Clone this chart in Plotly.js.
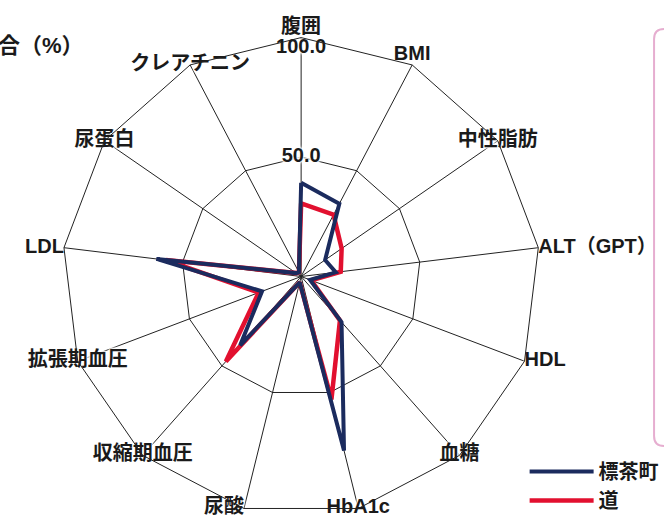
<!DOCTYPE html>
<html>
<head>
<meta charset="utf-8">
<script src="https://cdn.plot.ly/plotly-3.0.1.min.js"></script>
<style>html,body{margin:0;padding:0;background:#fff;}#chart{width:664px;height:527px;}</style>
</head>
<body>
<div id="chart"></div>
<script>
// categories (clockwise from top)
var categories = ['腹囲','BMI','中性脂肪','ALT（GPT）','HDL','血糖','HbA1c','尿酸','収縮期血圧','拡張期血圧','LDL','尿蛋白','クレアチニン'];
// 標茶町 (%)
var shibechaValues = [39.2, 34.4, 12.2, 14.6, 4.0, 25.5, 75.0, 2.5, 38.5, 17.5, 61.0, 2.5, 2.0];
// 道 (%)
var hokkaidoValues = [30.6, 29.2, 20.6, 16.7, 4.5, 24.5, 53.0, 2.5, 47.5, 19.0, 57.0, 2.5, 2.0];
// radial tick labels
var radialTickValues = [50, 100];
var radialTickLabels = ['50.0', '100.0'];
var seriesNames = ['標茶町', '道'];
var axisTitle = '割合（%）';

var labelPositions = ['top center','top center','middle center','middle right','middle right','middle center','middle center','middle left','middle center','middle center','middle left','middle center','middle center'];

function closed(arr){ return arr.concat([arr[0]]); }

var fontFam = '"Liberation Sans", "Noto Sans CJK JP", sans-serif';
var glow = '0 0 2px #fff, 0 0 2px #fff, 0 0 3px #fff, 0 0 3px #fff, 0 0 4px #fff';

var traces = [
  {
    type: 'scatterpolar', mode: 'lines', name: seriesNames[1],
    r: closed(hokkaidoValues), theta: closed(categories),
    line: {color: '#e2102f', width: 4.5},
    hoverinfo: 'skip'
  },
  {
    type: 'scatterpolar', mode: 'lines', name: seriesNames[0],
    r: closed(shibechaValues), theta: closed(categories),
    line: {color: '#1b2b5e', width: 4},
    hoverinfo: 'skip'
  },
  {
    type: 'scatterpolar', mode: 'text', showlegend: false,
    r: categories.map(function(){ return radialTickValues[1]; }),
    theta: categories, text: categories,
    textposition: labelPositions,
    textfont: {family: fontFam, size: 20, color: '#1a1a1a', weight: 'bold', shadow: glow},
    cliponaxis: false, hoverinfo: 'skip'
  },
  {
    type: 'scatterpolar', mode: 'text', showlegend: false,
    r: radialTickValues, theta: radialTickValues.map(function(){ return categories[0]; }),
    text: radialTickLabels,
    textposition: ['middle center','bottom center'],
    textfont: {family: fontFam, size: 20, color: '#1a1a1a', weight: 'bold', shadow: glow},
    cliponaxis: false, hoverinfo: 'skip'
  }
];

var layout = {
  width: 664, height: 527,
  margin: {l: 0, r: 0, t: 0, b: 0},
  paper_bgcolor: '#fff',
  showlegend: true,
  legend: {
    x: 527/664, xanchor: 'left', y: 1 - 452/527, yanchor: 'top',
    traceorder: 'reversed', bgcolor: 'rgba(0,0,0,0)', itemwidth: 64,
    font: {family: fontFam, size: 20, color: '#1a1a1a', weight: 'bold'}
  },
  polar: {
    domain: {x: [62.5/664, 542.5/664], y: [1 - 516.5/527, 1 - 36.5/527]},
    bgcolor: '#fff',
    gridshape: 'linear',
    angularaxis: {
      type: 'category', direction: 'clockwise', rotation: 90,
      showticklabels: false, ticks: '',
      showline: true, linecolor: '#222', linewidth: 1,
      showgrid: true, gridcolor: '#222', gridwidth: 1
    },
    radialaxis: {
      range: [0, 100], tickvals: radialTickValues,
      showticklabels: false, ticks: '', showline: false,
      showgrid: true, gridcolor: '#222', gridwidth: 1
    }
  },
  annotations: [{
    text: axisTitle, xref: 'paper', yref: 'paper',
    x: 86/664, xanchor: 'right', y: 1 - 45/527, yanchor: 'middle',
    showarrow: false, font: {family: fontFam, size: 22, color: '#1a1a1a', weight: 'bold'}
  }],
  shapes: [{
    type: 'path', xref: 'paper', yref: 'paper', layer: 'below',
    path: 'M 1.05,0.945 L 1.0046,0.945 Q 0.9895,0.945 0.9895,0.926 L 0.9895,0.1727 Q 0.9895,0.1537 1.0046,0.1537 L 1.05,0.1537',
    line: {color: '#e6aed0', width: 2}, fillcolor: '#fff'
  }]
};

Plotly.newPlot('chart', traces, layout, {displayModeBar: false, staticPlot: true});
</script>
</body>
</html>
